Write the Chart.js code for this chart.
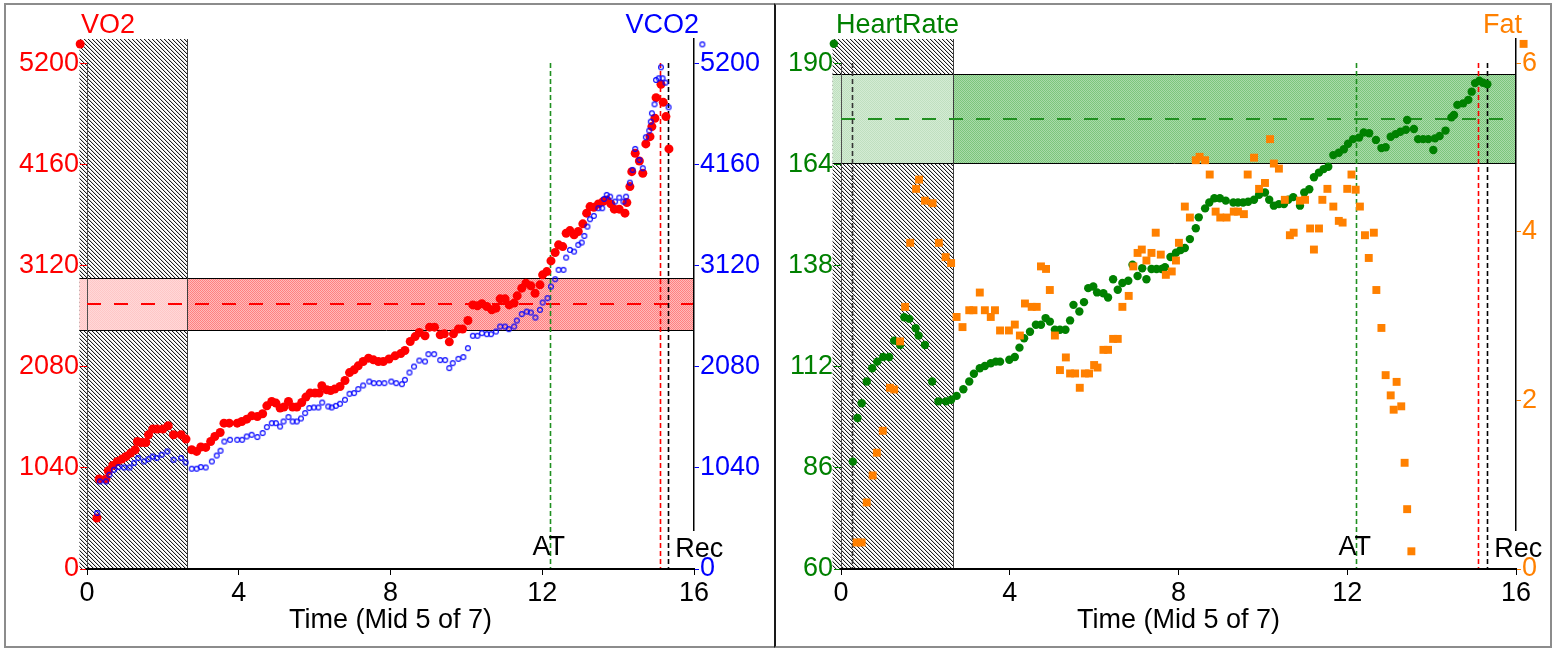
<!DOCTYPE html>
<html>
<head>
<meta charset="utf-8">
<title>VO2 / HeartRate</title>
<script src="https://cdn.jsdelivr.net/npm/chart.js@4.4.0/dist/chart.umd.min.js"></script>
<style>
  html, body { margin: 0; padding: 0; background: #fff; }
  body { width: 1557px; height: 649px; position: relative; overflow: hidden; }
  .frame { position: absolute; top: 3px; height: 645px; box-sizing: border-box; border: 2px solid #8c8c8c; }
  #frame-left { left: 4px; width: 771px; border-right: none; }
  #frame-right { left: 774px; width: 778px; border-left: 2px solid #1a1a1a; }
  canvas { position: absolute; top: 5px; }
  #chart-left { left: 6px; }
  #chart-right { left: 776px; }
</style>
</head>
<body>
<div class="frame" id="frame-left"></div>
<div class="frame" id="frame-right"></div>
<canvas id="chart-left" width="767" height="640"></canvas>
<canvas id="chart-right" width="773" height="640"></canvas>
<script>
// axis ticks
const timeTicks = [0, 4, 8, 12, 16];
const vo2Ticks = [0, 1040, 2080, 3120, 4160, 5200];
const hrTicks = [60, 86, 112, 138, 164, 190];
const fatTicks = [0, 2, 4, 6];

// event times (min)
const warmupStart = -0.2;
const warmupEndLeft = 2.64;
const warmupEndRight = 2.65;
const startMark = 0.26;
const atTime = 12.2;
const peakTime = 15.1;
const recTime = 15.32;

// target bands: low, mean, high
const vo2Band = [2456, 2723, 2994];
const hrBand = [164.3, 175.8, 187.2];

// VO2 / VCO2 (ml/min)
const vo2Time = [-0.18, 0.26, 0.32, 0.50, 0.56, 0.68, 0.80, 0.92, 1.03, 1.15, 1.27, 1.33, 1.44, 1.55, 1.62, 1.73, 1.85, 2.00, 2.14, 2.28,
  2.48, 2.61, 2.76, 2.89, 3.00, 3.13, 3.26, 3.37, 3.51, 3.61, 3.75, 3.96, 4.08, 4.21, 4.34, 4.49, 4.63, 4.74, 4.87, 4.98,
  5.09, 5.19, 5.31, 5.42, 5.53, 5.66, 5.77, 5.88, 6.01, 6.12, 6.19, 6.32, 6.42, 6.53, 6.67, 6.80, 6.92, 7.04, 7.15, 7.28,
  7.42, 7.55, 7.68, 7.81, 7.96, 8.12, 8.27, 8.38, 8.52, 8.65, 8.76, 8.91, 9.03, 9.16, 9.31, 9.42, 9.55, 9.66, 9.79, 9.90,
  10.04, 10.17, 10.29, 10.41, 10.54, 10.67, 10.78, 10.89, 11.02, 11.13, 11.26, 11.34, 11.46, 11.57, 11.70, 11.81, 11.94, 12.01, 12.12, 12.23,
  12.34, 12.43, 12.54, 12.63, 12.73, 12.84, 12.95, 13.07, 13.17, 13.26, 13.36, 13.48, 13.60, 13.70, 13.81, 13.90, 14.03, 14.18, 14.23, 14.31,
  14.36, 14.45, 14.56, 14.65, 14.73, 14.84, 14.89, 14.97, 15.00, 15.13, 15.19, 15.26, 15.34];
const vo2Values = [5398, 524, 925, 925, 1010, 1065, 1106, 1130, 1157, 1192, 1226, 1311, 1301, 1301, 1380, 1439, 1439, 1439, 1473, 1380,
  1380, 1336, 1226, 1209, 1254, 1250, 1311, 1363, 1404, 1500, 1500, 1500, 1517, 1541, 1575, 1568, 1596, 1678, 1722, 1706,
  1655, 1665, 1722, 1665, 1665, 1712, 1768, 1809, 1809, 1809, 1884, 1843, 1836, 1850, 1877, 1938, 2020, 2048, 2089, 2134,
  2168, 2151, 2134, 2134, 2160, 2192, 2215, 2247, 2339, 2390, 2432, 2398, 2487, 2487, 2408, 2418, 2336, 2418, 2467, 2467,
  2555, 2716, 2706, 2727, 2699, 2665, 2682, 2778, 2778, 2716, 2734, 2809, 2888, 2939, 2912, 2836, 2922, 3025, 3058, 3168,
  3254, 3333, 3315, 3453, 3480, 3436, 3470, 3549, 3659, 3727, 3720, 3754, 3778, 3795, 3754, 3700, 3700, 3659, 3768, 3932,
  4086, 4275, 4196, 4070, 4371, 4446, 4549, 4635, 4847, 4984, 4799, 4652, 4320];

const vco2Time = [0.27, 0.34, 0.50, 0.59, 0.71, 0.83, 0.98, 1.12, 1.24, 1.35, 1.50, 1.62, 1.73, 1.84, 1.97, 2.12, 2.28, 2.48, 2.60, 2.76,
  2.89, 3.00, 3.13, 3.29, 3.42, 3.52, 3.62, 3.77, 3.96, 4.09, 4.21, 4.34, 4.49, 4.63, 4.74, 4.87, 4.98, 5.09, 5.18, 5.31,
  5.42, 5.53, 5.64, 5.75, 5.86, 5.98, 6.10, 6.20, 6.36, 6.45, 6.56, 6.67, 6.80, 6.92, 7.04, 7.15, 7.28, 7.44, 7.56, 7.70,
  7.84, 8.02, 8.15, 8.30, 8.38, 8.50, 8.62, 8.76, 8.91, 9.00, 9.15, 9.31, 9.44, 9.55, 9.64, 9.79, 9.92, 10.04, 10.17, 10.29,
  10.41, 10.54, 10.65, 10.78, 10.89, 11.02, 11.12, 11.26, 11.33, 11.46, 11.59, 11.70, 11.82, 11.94, 12.01, 12.14, 12.23, 12.34, 12.43, 12.56,
  12.63, 12.73, 12.84, 12.95, 13.04, 13.11, 13.19, 13.26, 13.36, 13.48, 13.58, 13.63, 13.70, 13.79, 13.92, 14.03, 14.14, 14.21, 14.31, 14.38,
  14.45, 14.56, 14.65, 14.73, 14.82, 14.86, 14.89, 14.96, 15.00, 15.07, 15.13, 15.17, 15.25, 15.33, 16.22];
const vco2Values = [576, 900, 900, 969, 1020, 1048, 1044, 1044, 1089, 1141, 1106, 1130, 1157, 1141, 1175, 1209, 1123, 1141, 1096, 1031,
  1031, 1048, 1044, 1106, 1167, 1216, 1311, 1329, 1329, 1329, 1363, 1380, 1357, 1398, 1459, 1500, 1500, 1465, 1517, 1562,
  1517, 1517, 1548, 1603, 1655, 1661, 1661, 1712, 1671, 1661, 1678, 1699, 1740, 1802, 1809, 1850, 1887, 1928, 1911, 1911,
  1911, 1928, 1911, 1901, 1945, 2020, 2082, 2144, 2134, 2209, 2209, 2148, 2148, 2066, 2117, 2161, 2179, 2271, 2398, 2398,
  2425, 2415, 2415, 2442, 2493, 2493, 2466, 2493, 2555, 2621, 2647, 2637, 2586, 2665, 2740, 2785, 2904, 2980, 3076, 3076,
  3202, 3281, 3264, 3333, 3357, 3425, 3521, 3597, 3631, 3710, 3710, 3806, 3847, 3829, 3778, 3819, 3778, 3829, 3973, 4104,
  4320, 4206, 4121, 4440, 4508, 4600, 4686, 4779, 5029, 5046, 5159, 5046, 5001, 4748, 5395];

// HeartRate (bpm) / Fat
const hrTime = [-0.17, 0.28, 0.39, 0.49, 0.61, 0.74, 0.86, 1.00, 1.14, 1.26, 1.40, 1.50, 1.62, 1.77, 1.84, 1.99, 2.16, 2.31, 2.49, 2.61,
  2.74, 2.90, 3.04, 3.15, 3.29, 3.41, 3.55, 3.67, 3.77, 3.99, 4.12, 4.23, 4.34, 4.48, 4.62, 4.74, 4.85, 4.95, 5.07, 5.19,
  5.32, 5.43, 5.51, 5.65, 5.76, 5.86, 5.98, 6.07, 6.22, 6.33, 6.45, 6.56, 6.67, 6.81, 6.91, 7.03, 7.14, 7.24, 7.36, 7.48,
  7.60, 7.68, 7.81, 7.94, 8.05, 8.15, 8.27, 8.41, 8.48, 8.63, 8.73, 8.85, 8.98, 9.12, 9.30, 9.41, 9.53, 9.65, 9.79, 9.91,
  10.05, 10.15, 10.26, 10.38, 10.50, 10.60, 10.72, 10.88, 10.98, 11.10, 11.21, 11.33, 11.44, 11.55, 11.67, 11.80, 11.92, 12.02, 12.14, 12.28,
  12.39, 12.52, 12.68, 12.81, 12.91, 13.03, 13.15, 13.26, 13.39, 13.42, 13.58, 13.68, 13.80, 13.92, 14.04, 14.08, 14.19, 14.33, 14.47, 14.53,
  14.61, 14.75, 14.87, 14.95, 15.03, 15.13, 15.22, 15.32];
const hrValues = [195.0, 87.6, 98.8, 102.6, 108.2, 111.6, 113.3, 114.5, 114.5, 118.7, 117.6, 124.7, 124.3, 121.9, 120.0, 117.6, 108.2, 103.1, 103.1, 103.5,
  104.5, 106.2, 108.2, 110.2, 111.6, 112.2, 112.9, 113.3, 113.3, 113.8, 114.5, 116.9, 119.3, 121.0, 122.8, 122.8, 124.5, 123.6, 121.5, 121.5,
  121.5, 123.9, 127.9, 126.2, 128.6, 132.2, 132.6, 131.1, 130.9, 129.8, 134.5, 131.8, 133.5, 134.1, 138.2, 135.3, 137.3, 134.5, 137.1, 137.1,
  137.1, 137.6, 140.2, 141.3, 142.0, 142.5, 144.8, 147.6, 150.4, 152.7, 154.2, 155.3, 155.3, 154.7, 154.2, 154.2, 154.2, 154.4, 154.9, 156.2,
  156.8, 154.9, 153.4, 153.8, 153.8, 154.9, 155.6, 153.4, 156.8, 157.6, 160.7, 161.9, 162.8, 163.4, 166.4, 167.0, 167.9, 169.3, 170.5, 170.9,
  172.2, 172.0, 170.3, 168.2, 168.4, 171.1, 171.8, 172.4, 172.9, 175.4, 173.1, 170.5, 170.5, 170.5, 167.7, 170.7, 171.3, 172.7, 176.1, 176.7,
  179.3, 179.7, 180.6, 182.7, 184.9, 185.5, 185.0, 184.6];

const fatTime = [0.37, 0.49, 0.61, 0.75, 0.85, 0.99, 1.16, 1.26, 1.40, 1.52, 1.64, 1.78, 1.85, 1.99, 2.17, 2.32, 2.48, 2.61, 2.74, 2.88,
  3.04, 3.14, 3.29, 3.41, 3.55, 3.65, 3.77, 3.98, 4.12, 4.24, 4.36, 4.52, 4.64, 4.74, 4.86, 4.95, 5.07, 5.19, 5.33, 5.43,
  5.55, 5.66, 5.78, 5.88, 6.00, 6.08, 6.22, 6.33, 6.45, 6.56, 6.67, 6.82, 6.93, 7.03, 7.13, 7.24, 7.36, 7.46, 7.58, 7.70,
  7.84, 7.94, 8.01, 8.15, 8.27, 8.41, 8.50, 8.63, 8.74, 8.88, 8.99, 9.14, 9.31, 9.41, 9.55, 9.64, 9.79, 9.91, 10.05, 10.17,
  10.26, 10.38, 10.52, 10.64, 10.73, 10.88, 11.00, 11.12, 11.21, 11.33, 11.41, 11.53, 11.67, 11.80, 11.89, 12.00, 12.10, 12.20, 12.30, 12.42,
  12.51, 12.63, 12.69, 12.81, 12.91, 13.03, 13.10, 13.17, 13.28, 13.36, 13.42, 13.52, 16.18];
const fatValues = [0.315, 0.315, 0.79, 1.11, 1.38, 1.64, 2.15, 2.13, 2.70, 3.11, 3.87, 4.51, 4.62, 4.37, 4.34, 3.87, 3.70, 3.63, 2.99, 2.87,
  3.07, 3.07, 3.28, 3.07, 2.99, 3.07, 2.83, 2.83, 2.90, 2.77, 3.15, 3.11, 3.11, 3.59, 3.56, 3.31, 2.77, 2.36, 2.51, 2.32,
  2.32, 2.15, 2.32, 2.32, 2.42, 2.39, 2.60, 2.60, 2.73, 2.73, 3.11, 3.24, 3.59, 3.75, 3.79, 3.66, 3.75, 3.99, 3.73, 3.49,
  3.53, 3.66, 3.87, 4.30, 4.17, 4.85, 4.89, 4.85, 4.68, 4.24, 4.17, 4.17, 4.24, 4.24, 4.21, 4.68, 4.88, 4.51, 4.58, 5.10,
  4.81, 4.75, 4.38, 3.96, 3.99, 4.37, 4.38, 4.04, 3.79, 4.04, 4.38, 4.51, 4.30, 4.13, 4.11, 4.51, 4.68, 4.50, 4.30, 3.96,
  3.69, 3.99, 3.31, 2.86, 2.30, 2.06, 1.89, 2.22, 1.93, 1.26, 0.71, 0.21, 6.23];

const FONT = '"Liberation Sans", Arial, Helvetica, sans-serif';
Chart.defaults.font.family = FONT;
Chart.defaults.font.size = 27;

const toPoints = (xs, ys) => xs.map((x, i) => ({ x, y: ys[i] }));
const plainLabel = (v) => String(v);

// diagonal hatch for the warm-up period
function hatchPattern(ctx) {
  const c = document.createElement('canvas');
  c.width = 8; c.height = 8;
  const g = c.getContext('2d');
  g.fillStyle = '#fff';
  g.fillRect(0, 0, 8, 8);
  for (let y = 0; y < 8; y++) {
    for (let x = 0; x < 8; x++) {
      const d = (((x - y) % 4) + 4) % 4;
      if (d === 0) { g.fillStyle = '#1c1c1c'; g.fillRect(x, y, 1, 1); }
      else if (d === 1) { g.fillStyle = '#d4d4d4'; g.fillRect(x, y, 1, 1); }
    }
  }
  return ctx.createPattern(c, 'repeat');
}

// fine dotted texture for the bands
function dotPattern(ctx, a, b) {
  const c = document.createElement('canvas');
  c.width = 2; c.height = 2;
  const g = c.getContext('2d');
  g.fillStyle = a;
  g.fillRect(0, 0, 2, 2);
  g.fillStyle = b;
  g.fillRect(0, 0, 1, 1);
  g.fillRect(1, 1, 1, 1);
  return ctx.createPattern(c, 'repeat');
}

// hollow ring marker for VCO2
function ringMarker(color) {
  const c = document.createElement('canvas');
  c.width = 8; c.height = 8;
  const g = c.getContext('2d');
  g.strokeStyle = color;
  g.lineWidth = 1.1;
  g.beginPath();
  g.arc(4, 4, 2.4, 0, Math.PI * 2);
  g.stroke();
  return c;
}

function decoPlugin(p) {
  let pats = null;
  return {
    id: 'deco',
    beforeDraw(chart) {
      const { ctx, chartArea: a, scales } = chart;
      const sx = scales.x;
      const sy = scales[p.leftAxis];
      if (!pats) {
        pats = {
          hatch: hatchPattern(ctx),
          light: dotPattern(ctx, p.bandLight[0], p.bandLight[1]),
          dark: dotPattern(ctx, p.bandDark[0], p.bandDark[1]),
        };
      }
      const hx0 = sx.getPixelForValue(warmupStart);
      const hx1 = Math.round(sx.getPixelForValue(p.warmupEnd));
      const by0 = Math.round(sy.getPixelForValue(p.band[2]));
      const by1 = Math.round(sy.getPixelForValue(p.band[0]));
      const bm = Math.round(sy.getPixelForValue(p.band[1]));
      const yTop = Math.round(sy.getPixelForValue(p.topTick));

      ctx.save();
      // warm-up hatch
      ctx.fillStyle = pats.hatch;
      ctx.fillRect(hx0, a.top, hx1 - hx0, a.bottom - a.top);
      // band
      ctx.fillStyle = pats.light;
      ctx.fillRect(hx0, by0, hx1 - hx0, by1 - by0);
      ctx.fillStyle = pats.dark;
      ctx.fillRect(hx1, by0, a.right - hx1, by1 - by0);
      ctx.strokeStyle = '#000';
      ctx.lineWidth = 1;
      ctx.beginPath();
      ctx.moveTo(hx0, by0 + 0.5); ctx.lineTo(a.right, by0 + 0.5);
      ctx.moveTo(hx0, by1 + 0.5); ctx.lineTo(a.right, by1 + 0.5);
      ctx.stroke();
      // warm-up edge
      ctx.strokeStyle = '#3c3c3c';
      ctx.beginPath();
      ctx.moveTo(hx1 + 0.5, a.top); ctx.lineTo(hx1 + 0.5, a.bottom);
      ctx.stroke();
      // left axis line (0 .. top tick)
      ctx.strokeStyle = '#505050';
      ctx.beginPath();
      ctx.moveTo(Math.round(a.left) + 0.5, yTop); ctx.lineTo(Math.round(a.left) + 0.5, a.bottom);
      ctx.stroke();
      // band mean
      ctx.strokeStyle = p.meanColor;
      ctx.lineWidth = 2;
      ctx.setLineDash([14, 13]);
      ctx.beginPath();
      ctx.moveTo(a.left, bm); ctx.lineTo(a.right, bm);
      ctx.stroke();
      // event markers
      ctx.lineWidth = 1.6;
      ctx.setLineDash([5, 3]);
      p.vlines.forEach((v) => {
        const x = Math.round(sx.getPixelForValue(v.t)) + 0.5;
        ctx.strokeStyle = v.color;
        ctx.beginPath();
        ctx.moveTo(x, yTop); ctx.lineTo(x, a.bottom);
        ctx.stroke();
      });
      ctx.restore();
    },
    // white box behind "Rec" hides the right axis line; tick labels are drawn afterwards (ticks.z = 1)
    afterDatasetsDraw(chart) {
      const { ctx, chartArea: a, scales } = chart;
      const rx = scales.x.getPixelForValue(recTime) + 7;
      ctx.save();
      ctx.fillStyle = '#fff';
      ctx.fillRect(rx - 2, a.bottom - 38, 54, 37);
      ctx.restore();
    },
    afterDraw(chart) {
      const { ctx, chartArea: a, scales } = chart;
      const sx = scales.x;
      ctx.save();
      ctx.font = '27px ' + FONT;
      ctx.textBaseline = 'alphabetic';
      // axis names
      ctx.fillStyle = p.leftTitle.color;
      ctx.textAlign = 'left';
      ctx.fillText(p.leftTitle.text, a.left - p.leftTitle.dx, a.top - 6);
      ctx.fillStyle = p.rightTitle.color;
      ctx.textAlign = 'right';
      ctx.fillText(p.rightTitle.text, a.right + p.rightTitle.dx, a.top - 6);
      // AT / Rec
      ctx.fillStyle = '#000';
      ctx.textAlign = 'center';
      ctx.fillText('AT', sx.getPixelForValue(atTime) - 1, a.bottom - 14);
      ctx.textAlign = 'left';
      ctx.fillText('Rec', sx.getPixelForValue(recTime) + 7, a.bottom - 12);
      ctx.restore();
    },
  };
}

function tickAxis(ticks, extra) {
  return Object.assign({
    type: 'linear',
    afterBuildTicks: (s) => { s.ticks = ticks.map((v) => ({ value: v })); },
  }, extra);
}

function buildPanel(id, p) {
  return new Chart(document.getElementById(id), {
    type: 'scatter',
    data: { datasets: p.datasets },
    options: {
      responsive: false,
      animation: false,
      events: [],
      layout: { padding: { top: 34, left: 0, right: 0, bottom: 0 } },
      plugins: { legend: { display: false }, tooltip: { enabled: false } },
      scales: {
        x: tickAxis(timeTicks, {
          min: 0, max: 16,
          afterFit: (s) => { s.height = 76; },
          grid: { drawOnChartArea: false, tickLength: 6, tickColor: '#000', tickWidth: 1 },
          border: { color: '#000', width: 2 },
          ticks: { color: '#000', padding: 2, autoSkip: false, maxRotation: 0, callback: plainLabel },
          title: { display: true, text: 'Time (Mid 5 of 7)', color: '#000', padding: { top: 0, bottom: 8 } },
        }),
        [p.leftAxis]: tickAxis(p.leftTicks, {
          position: 'left', min: p.leftRange[0], max: p.leftRange[1],
          afterFit: (s) => { s.width = p.leftWidth; },
          grid: { drawOnChartArea: false, tickLength: 7, tickColor: p.leftTitle.color, tickWidth: 1 },
          border: { display: false },
          ticks: { color: p.leftTitle.color, padding: 1, autoSkip: false, callback: plainLabel },
        }),
        [p.rightAxis]: tickAxis(p.rightTicks, {
          position: 'right', min: p.rightRange[0], max: p.rightRange[1],
          afterFit: (s) => { s.width = p.rightWidth; },
          grid: { drawOnChartArea: false, tickLength: 5, tickColor: p.rightTitle.color, tickWidth: 1 },
          border: { color: '#000', width: 1.5 },
          ticks: { color: p.rightTitle.color, padding: 1, autoSkip: false, callback: plainLabel, z: 1 },
        }),
      },
    },
    plugins: [decoPlugin(p)],
  });
}

// left: VO2 / VCO2
buildPanel('chart-left', {
  leftAxis: 'y', rightAxis: 'y2',
  leftTicks: vo2Ticks, rightTicks: vo2Ticks,
  leftRange: [0, 5450], rightRange: [0, 5450],
  leftWidth: 81, rightWidth: 79, topTick: 5200,
  band: vo2Band, warmupEnd: warmupEndLeft,
  bandLight: ['#ffc6c6', '#ffd8d8'], bandDark: ['#ff8080', '#ffbaba'], meanColor: '#ff0000',
  vlines: [
    { t: atTime, color: '#1f8f1f' },
    { t: peakTime, color: '#ff0000' },
    { t: recTime, color: '#000' },
  ],
  leftTitle: { text: 'VO2', color: '#ff0000', dx: 6 },
  rightTitle: { text: 'VCO2', color: '#0000ff', dx: 5 },
  datasets: [
    {
      label: 'VCO2', data: toPoints(vco2Time, vco2Values), yAxisID: 'y2', order: 0, clip: false,
      pointStyle: ringMarker('#0000ff'), pointRadius: 12,
    },
    {
      label: 'VO2', data: toPoints(vo2Time, vo2Values), yAxisID: 'y', order: 1, clip: false,
      pointStyle: 'circle', pointRadius: 4.5, pointBackgroundColor: '#ff0000',
      pointBorderWidth: 8, pointBorderColor: 'rgba(0,0,0,0)',
    },
  ],
});

// right: HeartRate / Fat
buildPanel('chart-right', {
  leftAxis: 'hr', rightAxis: 'fat',
  leftTicks: hrTicks, rightTicks: fatTicks,
  leftRange: [60, 196.24], rightRange: [0, 6.288],
  leftWidth: 65, rightWidth: 33, topTick: 190,
  band: hrBand, warmupEnd: warmupEndRight,
  bandLight: ['#bfe0bf', '#d4ebd4'], bandDark: ['#7cc67c', '#aadaaa'], meanColor: '#1f8f1f',
  vlines: [
    { t: startMark, color: '#333' },
    { t: atTime, color: '#1f8f1f' },
    { t: peakTime, color: '#ff0000' },
    { t: recTime, color: '#000' },
  ],
  leftTitle: { text: 'HeartRate', color: '#008000', dx: 5 },
  rightTitle: { text: 'Fat', color: '#ff8000', dx: 6 },
  datasets: [
    {
      label: 'Fat', data: toPoints(fatTime, fatValues), yAxisID: 'fat', order: 0, clip: false,
      pointStyle: 'rect', pointRadius: 5.6, pointBackgroundColor: '#ff8000',
      pointBorderWidth: 8, pointBorderColor: 'rgba(0,0,0,0)',
    },
    {
      label: 'HeartRate', data: toPoints(hrTime, hrValues), yAxisID: 'hr', order: 1, clip: false,
      pointStyle: 'circle', pointRadius: 4.2, pointBackgroundColor: '#008000',
      pointBorderWidth: 8, pointBorderColor: 'rgba(0,0,0,0)',
    },
  ],
});
</script>
</body>
</html>
